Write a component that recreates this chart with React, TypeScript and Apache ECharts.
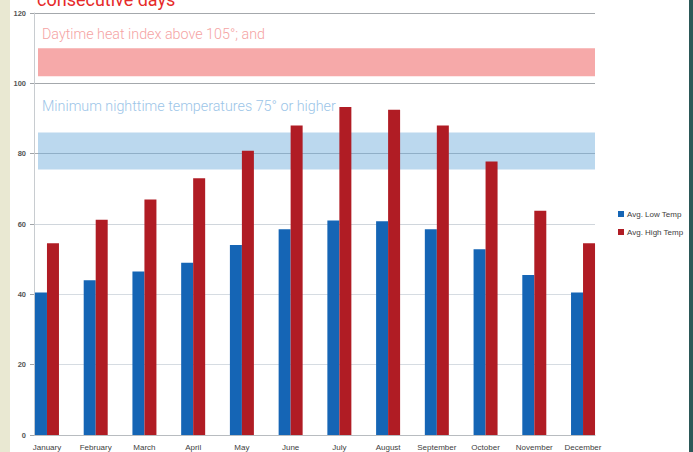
import React, { useEffect, useRef } from "react";
import * as echarts from "echarts";

const months = ["January","February","March","April","May","June","July","August","September","October","November","December"];
const lowTemp = [40.5, 44, 46.5, 49, 54, 58.5, 61, 60.8, 58.5, 52.8, 45.5, 40.5];
const highTemp = [54.5, 61.2, 67, 73, 80.8, 88, 93.3, 92.5, 88, 77.8, 63.8, 54.5];
const heatBand = [102, 110];
const nightBand = [75.5, 86];
const yTicks = { min: 0, max: 120, interval: 20 };

export default function App() {
  const ref = useRef<HTMLDivElement>(null);
  useEffect(() => {
    const chart = echarts.init(ref.current!, null, { renderer: "svg" });
    const gridTop = 13, gridBottom = 17;
    chart.setOption({
      animation: false,
      backgroundColor: "#ffffff",
      legend: {
        orient: "vertical",
        left: 613,
        top: 205,
        itemWidth: 6,
        itemHeight: 6,
        itemGap: 10,
        icon: "rect",
        data: ["Avg. Low Temp", "Avg. High Temp"],
        textStyle: { fontSize: 8, color: "#404040", fontFamily: "Liberation Sans", padding: [0, 0, 0, -2] },
      },
      grid: [
        { left: 34, right: 98, top: gridTop, bottom: gridBottom },
        { left: 22.6, right: 85.6, top: gridTop, bottom: gridBottom },
      ],
      xAxis: [
        { type: "category", gridIndex: 0, data: months, axisLabel: { show: false }, axisTick: { show: false }, axisLine: { show: true, lineStyle: { color: "#b8bcc0" } } },
        { type: "category", gridIndex: 1, data: months, axisLine: { show: false }, axisTick: { show: false },
          axisLabel: { interval: 0, fontSize: 8, color: "#404040", margin: 8, fontFamily: "Liberation Sans" } },
      ],
      yAxis: [
        { type: "value", gridIndex: 0, ...yTicks,
          axisLine: { show: true, lineStyle: { color: "#c8ccd0" } },
          axisTick: { show: true, length: 4, lineStyle: { color: "#a0a4a8" } },
          axisLabel: { fontSize: 7.5, fontWeight: "bold", color: "#555555", margin: 8, fontFamily: "Liberation Sans" },
          splitLine: { show: true, lineStyle: { color: ["#c8ccd0", "#d6dce2", "#d6dce2", "#d0d6dc", "#a8acb0", "#a4a8ac", "#a4a8ac"], width: 1 } } },
        { type: "value", gridIndex: 1, ...yTicks, show: false, splitLine: { show: false } },
      ],
      series: [
        {
          type: "line", xAxisIndex: 0, yAxisIndex: 0, data: [], silent: true,
          markArea: {
            silent: true,
            data: [
              [{ yAxis: heatBand[0], x: 38, itemStyle: { color: "#f6a9a9" } }, { yAxis: heatBand[1], x: 595 }],
              [{ yAxis: nightBand[0], x: 38, itemStyle: { color: "rgba(120,178,222,0.5)" } }, { yAxis: nightBand[1], x: 595 }],
            ],
          },
        },
        { name: "Avg. Low Temp", type: "bar", xAxisIndex: 1, yAxisIndex: 1, data: lowTemp, barWidth: 12, barGap: "0%", itemStyle: { color: "#1565b5" } },
        { name: "Avg. High Temp", type: "bar", xAxisIndex: 1, yAxisIndex: 1, data: highTemp, barWidth: 12, itemStyle: { color: "#b01c24" } },
      ],
      graphic: [
        { type: "rect", left: 0, top: 0, shape: { width: 10, height: 452 }, style: { fill: "#e9e8d2" } },
        { type: "rect", left: 689, top: 0, shape: { width: 4, height: 452 }, style: { fill: "#2b5858" } },
        { type: "text", left: 37, top: -10, style: { text: "consecutive days", fill: "#e62a2a", fontSize: 18, fontFamily: "Roboto" } },
        { type: "text", left: 42, top: 27, style: { text: "Daytime heat index above 105°; and", fill: "#f5a3a3", fontSize: 14.3, fontWeight: 300, fontFamily: "Roboto" } },
        { type: "text", left: 42, top: 99, style: { text: "Minimum nighttime temperatures 75° or higher", fill: "#9cc5e8", fontSize: 14.3, fontWeight: 300, fontFamily: "Roboto" } },
      ],
    });
    return () => chart.dispose();
  }, []);
  return <div ref={ref} style={{ position: "fixed", left: 0, top: 0, width: 693, height: 452 }} />;
}
